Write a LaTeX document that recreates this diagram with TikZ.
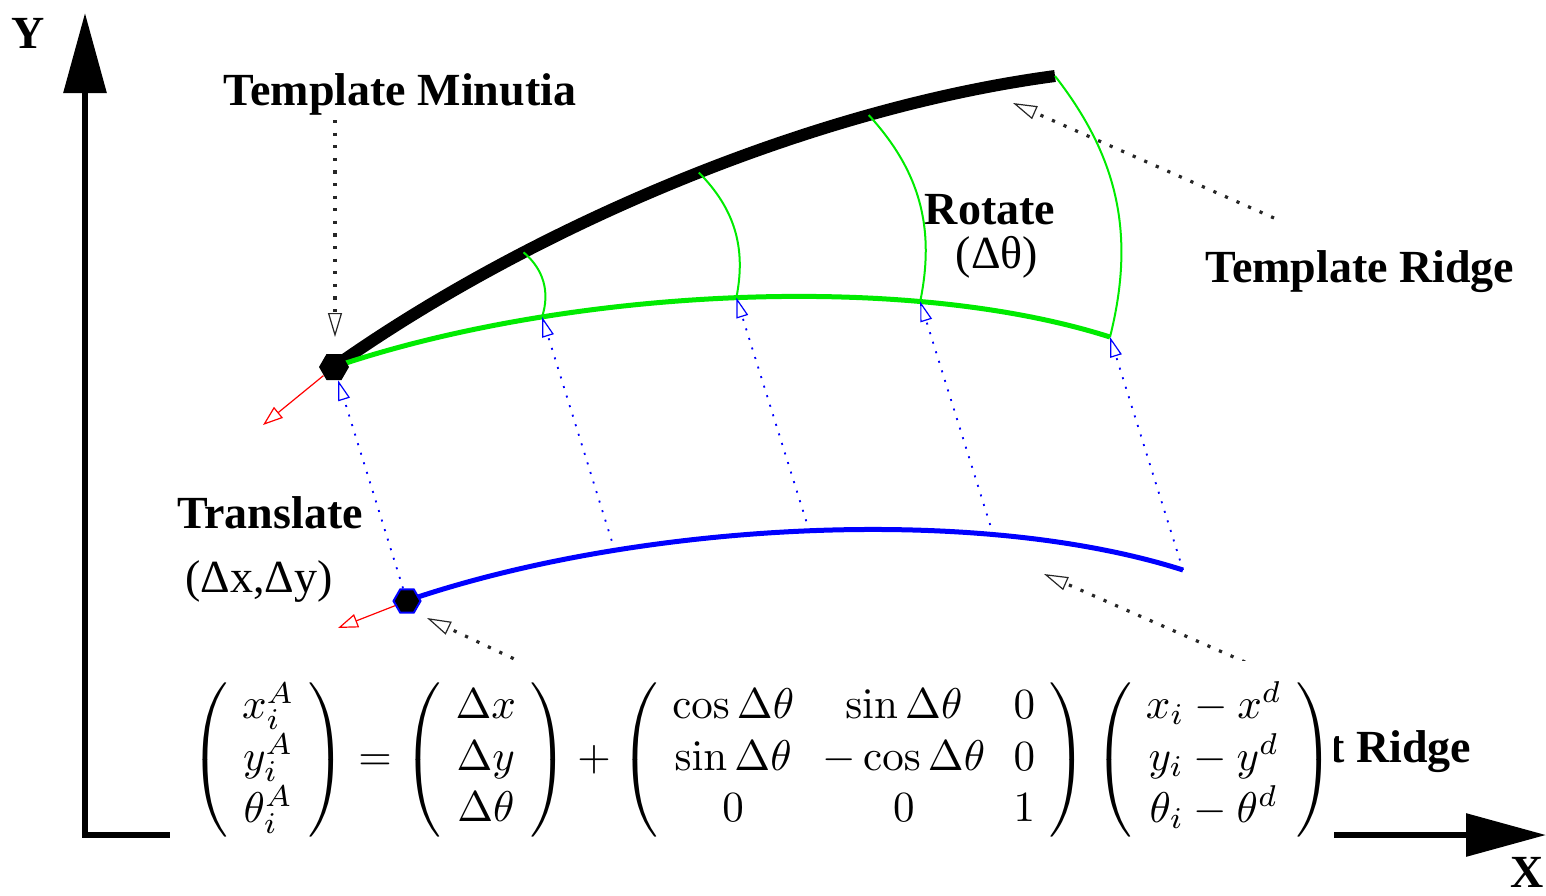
\documentclass[tikz,border=0pt]{standalone}
\usepackage{amsmath}
\usepackage[no-math]{fontspec}
\setmainfont{Liberation Serif}
\usetikzlibrary{arrows.meta,shapes.geometric,calc}
\definecolor{grn}{RGB}{0,235,0}
\definecolor{blu}{RGB}{0,0,255}
\definecolor{rd}{RGB}{255,0,0}
\begin{document}
\begin{tikzpicture}[x=0.5pt,y=-0.5pt,
  lbl/.style={font=\fontsize{23}{27}\selectfont\bfseries, inner sep=0pt, anchor=base},
  lblr/.style={font=\fontsize{23}{27}\selectfont, inner sep=0pt, anchor=base},
  dotarrow/.style={black!85, line width=1.6pt, dash pattern=on 1.6pt off 4.7pt,
    -{Triangle[open,length=12pt,width=7pt,line width=0.6pt]}},
  bluearrow/.style={blu, line width=0.9pt, dash pattern=on 1pt off 4pt,
    -{Triangle[open,length=10pt,width=6pt,line width=0.6pt]}},
  redarrow/.style={rd, line width=0.6pt, -{Triangle[open,length=10pt,width=7pt,line width=0.6pt]}},
  rotarc/.style={grn, line width=1pt},
  hexb/.style={regular polygon, regular polygon sides=6, fill=black, minimum size=15pt, inner sep=0pt},
  hexbl/.style={regular polygon, regular polygon sides=6, fill=black, draw=blu, line width=1pt, minimum size=13.5pt, inner sep=0pt},
]
\useasboundingbox (0,0) rectangle (1546,895);

% axes
\coordinate (O) at (85,835);
\coordinate (Ytip) at (85,13);
\coordinate (Xtip) at (1546,835);
\draw[line width=3pt, line join=miter,
  {Triangle[length=40pt,width=21pt]}-{Triangle[length=40pt,width=21pt]}] (Ytip) -- (O) -- (Xtip);
\node[lbl] (ylab) at (28,48) {Y};
\node[lbl] (xlab) at (1527,887) {X};

% template ridge (black)
\coordinate (C) at (334,367);
\draw[line width=6pt] (C) .. controls (520,235) and (800,110) .. (1055,76)
  coordinate[pos=0.3] (B1) coordinate[pos=0.54] (B2) coordinate[pos=0.76] (B3) coordinate (B4);

% translated ridge (green)
\draw[grn, line width=2.5pt] (C) .. controls (560,290) and (900,270) .. (1110,337)
  coordinate[pos=0.276] (G1) coordinate[pos=0.51] (G2) coordinate[pos=0.735] (G3) coordinate (G4);

% input ridge (blue)
\draw[blu, line width=2.5pt, shift={(73,233)}] (333,368) .. controls (560,290) and (900,270) .. (1110,337)
  coordinate[pos=0.276] (L1) coordinate[pos=0.51] (L2) coordinate[pos=0.735] (L3) coordinate (L4);

% rotation arcs
\draw[rotarc] (G1) to[bend right=34] (B1);
\draw[rotarc] (G2) to[bend right=28] (B2);
\draw[rotarc] (G3) to[bend right=27] (B3);
\draw[rotarc] (G4) to[bend right=26] (B4);

% minutiae
\node[hexb] (tm) at (C) {};
\node[hexbl] (bm) at (407,601) {};

% red direction arrows
\coordinate (r1) at (263,425);
\coordinate (r2) at (338,628);
\draw[redarrow] (tm) -- (r1);
\draw[redarrow] (bm) -- (r2);

% translation arrows
\draw[bluearrow] (bm) -- (tm);
\draw[bluearrow] (L1) -- (G1);
\draw[bluearrow] (L2) -- (G2);
\draw[bluearrow] (L3) -- (G3);
\draw[bluearrow] (L4) -- (G4);

% labels
\node[lbl] (tmin) at (400,105) {Template Minutia};
\node[lbl] (rot) at (990,224) {Rotate};
\node[lblr] (rotd) at (997,268) {(Δθ)};
\node[lbl] (tridge) at (1360,282) {Template Ridge};
\node[lbl] (trans) at (270,528) {Translate};
\node[lblr] (transd) at (259,592) {(Δx,Δy)};
\node[lbl, anchor=base west] (iridge) at (1329,762) {t Ridge};

% pointer arrows
\coordinate (p1s) at (335,120);
\coordinate (p1e) at (335,337);
\draw[dotarrow] (p1s) -- (p1e);
\coordinate (p2s) at (1274,218);
\coordinate (p2e) at (1013,103);
\draw[dotarrow] (p2s) -- (p2e);
\coordinate (p3s) at (1245,662);
\coordinate (p3e) at (1044,574);
\draw[dotarrow] (p3s) -- (p3e);
\coordinate (p4s) at (525,664);
\coordinate (p4e) at (427,618);
\draw[dotarrow] (p4s) -- (p4e);

% equation with white mask
\fill[white] (170,661) rectangle (1334,895);
\node[inner sep=0pt] (eq) at (762,760) {\setlength{\arraycolsep}{3.3pt}\scalebox{2.15}{$
\left(\begin{array}{c} x_i^A\\ y_i^A\\ \theta_i^A\end{array}\right)
=\left(\begin{array}{c}\Delta x\\ \Delta y\\ \Delta\theta\end{array}\right)
+\left(\begin{array}{ccc}\cos\Delta\theta & \sin\Delta\theta & 0\\ \sin\Delta\theta & -\cos\Delta\theta & 0\\ 0 & 0 & 1\end{array}\right)
\left(\begin{array}{c} x_i-x^d\\ y_i-y^d\\ \theta_i-\theta^d\end{array}\right)$}};
\end{tikzpicture}
\end{document}
